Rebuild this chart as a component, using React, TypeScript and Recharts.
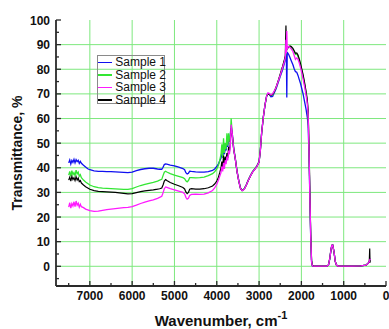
import React from 'react';
import { LineChart, Line, XAxis, YAxis, CartesianGrid, Legend } from 'recharts';

const wavenumbers = [
  7500, 7475, 7450, 7425, 7400, 7375, 7350, 7325, 7300, 7275,
  7250, 7225, 7200, 7150, 7100, 7050, 7000, 6900, 6800, 6700,
  6600, 6500, 6400, 6300, 6200, 6100, 6000, 5900, 5800, 5700,
  5600, 5500, 5400, 5350, 5300, 5270, 5240, 5210, 5180, 5100,
  5000, 4900, 4800, 4760, 4730, 4700, 4670, 4640, 4600, 4500,
  4400, 4300, 4200, 4100, 4050, 4000, 3960, 3930, 3900, 3880,
  3860, 3840, 3820, 3800, 3780, 3760, 3740, 3720, 3700, 3680,
  3660, 3640, 3620, 3600, 3560, 3520, 3480, 3440, 3400, 3350,
  3300, 3250, 3200, 3150, 3100, 3050, 3000, 2970, 2940, 2900,
  2860, 2820, 2790, 2760, 2720, 2680, 2640, 2600, 2550, 2500,
  2450, 2400, 2380, 2365, 2355, 2345, 2335, 2320, 2300, 2270,
  2240, 2200, 2170, 2140, 2110, 2080, 2050, 2020, 2000, 1960,
  1920, 1890, 1860, 1840, 1820, 1800, 1780, 1760, 1740, 1700,
  1600, 1500, 1400, 1360, 1330, 1300, 1280, 1260, 1230, 1200,
  1170, 1140, 1100, 1000, 800, 600, 470, 440, 410, 395,
  385, 378, 372,
];

const sample1 = [
  42.0, 43.2, 41.5, 43.0, 42.2, 43.4, 42.0, 43.3, 42.5, 43.0,
  41.8, 42.6, 41.8, 41.0, 40.3, 39.6, 39.2, 38.7, 38.5, 38.5,
  38.4, 38.4, 38.3, 38.2, 38.1, 38.0, 38.2, 38.8, 39.3, 39.6,
  39.8, 39.8, 39.5, 39.4, 39.4, 40.2, 41.3, 41.6, 41.5, 41.1,
  40.8, 40.3, 39.7, 39.2, 38.0, 37.5, 37.8, 38.6, 38.5, 38.3,
  38.2, 38.2, 38.4, 38.9, 39.5, 40.5, 41.6, 42.8, 44.0, 45.5,
  44.5, 47.0, 45.5, 48.0, 47.0, 50.0, 48.5, 52.0, 50.5, 53.5,
  57.0, 55.0, 51.5, 48.0, 43.5, 38.5, 34.8, 31.8, 30.9, 31.5,
  33.2, 35.2, 37.0, 38.5, 39.6, 40.8, 42.5, 47.0, 54.0, 60.5,
  65.5, 69.2, 70.0, 69.8, 68.8, 69.0, 70.5, 72.0, 74.5, 77.0,
  79.5, 82.5, 84.0, 85.5, 86.5, 68.5, 86.8, 86.5, 86.0, 84.8,
  83.5, 81.8, 80.2, 79.0, 78.8, 77.5, 75.8, 74.2, 72.8, 70.0,
  66.5, 63.8, 60.5, 57.0, 45.0, 28.0, 12.0, 2.0, 0.2, 0.1,
  0.1, 0.1, 0.1, 0.5, 3.0, 6.8, 8.5, 8.6, 6.0, 2.0,
  0.5, 0.1, 0.1, 0.1, 0.1, 0.2, 0.5, 0.9, 1.5, 2.0,
  2.5, 3.0, 2.5,
];

const sample2 = [
  37.0, 38.5, 36.5, 38.8, 37.2, 38.0, 36.8, 39.0, 37.5, 38.2,
  36.6, 37.2, 36.0, 35.0, 34.2, 33.6, 33.0, 32.3, 31.9, 31.7,
  31.6, 31.5, 31.4, 31.3, 31.2, 31.2, 31.5, 32.2, 32.8, 33.3,
  33.7, 34.1, 34.6, 35.0, 35.3, 36.8, 38.2, 38.6, 38.3, 37.6,
  37.0, 36.5, 36.0, 35.6, 34.7, 34.3, 34.8, 36.0, 36.0, 35.9,
  36.0, 36.2, 36.8, 37.6, 38.4, 39.5, 41.0, 43.0, 45.5, 49.5,
  44.0, 52.0, 46.0, 50.0, 47.5, 54.0, 49.0, 54.0, 50.5, 52.0,
  60.0, 55.0, 51.5, 48.0, 43.5, 38.5, 34.8, 31.8, 30.9, 31.5,
  33.2, 35.2, 37.0, 38.5, 39.6, 40.8, 42.5, 47.0, 54.0, 60.5,
  65.5, 69.2, 70.0, 69.8, 69.4, 69.6, 71.0, 72.5, 75.0, 77.8,
  80.5, 83.5, 85.0, 86.5, 87.5, 88.0, 88.3, 88.5, 89.0, 89.2,
  88.8, 88.0, 87.0, 86.0, 86.2, 85.2, 83.5, 81.5, 80.2, 77.2,
  73.5, 70.5, 67.0, 62.0, 48.0, 30.0, 13.0, 2.5, 0.3, 0.1,
  0.1, 0.1, 0.1, 0.5, 3.0, 6.8, 8.5, 8.6, 6.0, 2.0,
  0.5, 0.1, 0.1, 0.1, 0.1, 0.2, 0.5, 0.9, 1.5, 2.0,
  2.5, 3.0, 2.5,
];

const sample3 = [
  24.0, 25.8, 23.6, 25.5, 24.5, 26.2, 24.2, 26.5, 24.8, 25.6,
  24.0, 25.2, 24.2, 23.8, 23.2, 22.9, 22.6, 22.3, 22.4, 22.7,
  23.0, 23.2, 23.4, 23.6, 23.8, 23.9, 24.2, 24.8, 25.5, 26.1,
  26.6, 27.0, 27.6, 28.0, 28.4, 29.8, 31.5, 32.2, 32.0, 31.5,
  31.0, 30.5, 30.0, 29.4, 28.0, 27.3, 27.6, 28.8, 29.2, 29.3,
  29.2, 29.3, 29.8, 30.8, 31.8, 33.3, 35.0, 36.5, 38.0, 40.5,
  38.5, 42.0, 39.5, 43.0, 41.5, 44.5, 43.0, 47.0, 45.5, 49.0,
  57.5, 55.0, 51.0, 47.5, 43.3, 38.3, 34.6, 31.6, 30.7, 31.3,
  33.0, 35.0, 36.8, 38.3, 39.4, 40.6, 42.3, 47.0, 54.0, 60.5,
  65.5, 69.2, 70.4, 70.2, 69.6, 70.0, 71.2, 72.6, 75.0, 77.6,
  80.4, 83.2, 84.8, 92.0, 86.5, 95.5, 88.0, 89.0, 89.3, 88.8,
  88.3, 87.2, 85.6, 84.0, 84.6, 84.0, 82.5, 80.6, 79.2, 76.0,
  72.5, 69.5, 66.0, 61.5, 47.0, 29.0, 12.5, 2.0, 0.2, 0.1,
  0.1, 0.1, 0.1, 0.5, 3.0, 6.8, 8.5, 8.6, 6.0, 2.0,
  0.5, 0.1, 0.1, 0.1, 0.1, 0.2, 0.5, 0.9, 1.5, 2.0,
  2.5, 3.0, 2.5,
];

const sample4 = [
  35.0, 36.2, 34.6, 36.5, 35.2, 36.0, 34.8, 36.3, 35.0, 35.8,
  34.4, 34.8, 33.8, 33.0, 32.3, 31.8, 31.3, 30.7, 30.4, 30.3,
  30.2, 30.1, 30.0, 29.8, 29.6, 29.4, 29.5, 29.9, 30.3, 30.6,
  30.8, 31.0, 31.3, 31.5, 31.8, 33.0, 34.6, 35.2, 34.8, 34.0,
  33.3, 32.7, 32.0, 31.4, 30.2, 29.5, 30.0, 31.3, 31.5, 31.3,
  31.3, 31.5, 31.9, 32.6, 33.4, 34.6, 36.2, 38.0, 40.0, 42.5,
  40.0, 45.0, 41.5, 44.5, 43.0, 46.0, 44.0, 48.5, 46.5, 50.0,
  56.0, 54.5, 51.0, 47.5, 43.3, 38.3, 34.6, 31.6, 30.7, 31.3,
  33.0, 35.0, 36.8, 38.3, 39.4, 40.6, 42.3, 47.0, 54.0, 60.5,
  65.5, 69.2, 70.0, 69.8, 69.4, 69.8, 71.0, 72.6, 75.2, 78.0,
  80.8, 84.0, 85.5, 97.8, 87.5, 88.0, 88.5, 88.8, 89.2, 89.5,
  89.2, 88.5, 87.5, 86.5, 86.6, 85.8, 84.2, 82.3, 80.8, 77.8,
  74.2, 71.0, 67.5, 63.0, 49.0, 30.5, 13.0, 2.5, 0.3, 0.1,
  0.1, 0.1, 0.1, 0.5, 3.0, 6.8, 8.5, 8.6, 6.0, 2.0,
  0.5, 0.1, 0.1, 0.1, 0.1, 0.2, 0.5, 0.9, 1.5, 2.0,
  7.2, 1.5, 2.5,
];

const seriesNames = ['Sample 1', 'Sample 2', 'Sample 3', 'Sample 4'];
const seriesColors = ['#1010f0', '#33e633', '#ff1aff', '#000000'];

const xTicks = [7500, 7000, 6500, 6000, 5500, 5000, 4500, 4000, 3500, 3000, 2500, 2000, 1500, 1000, 500, 0];
const yTicks = [-5, 0, 5, 10, 15, 20, 25, 30, 35, 40, 45, 50, 55, 60, 65, 70, 75, 80, 85, 90, 95, 100];
const xGrid = [7000, 6000, 5000, 4000, 3000, 2000, 1000];
const yGrid = [0, 10, 20, 30, 40, 50, 60, 70, 80, 90];

const data = wavenumbers.map((w, i) => ({
  w,
  s1: sample1[i],
  s2: sample2[i],
  s3: sample3[i],
  s4: sample4[i],
}));

const FONT = '"Liberation Sans", Arial, sans-serif';
const AXIS = '#2a2a2a';

const XTick = (props: any) => {
  const { x, y, payload } = props;
  const v = payload.value;
  const major = v % 1000 === 0;
  return (
    <g>
      <line x1={x} x2={x} y1={y} y2={y - (major ? 5 : 3)} stroke={AXIS} strokeWidth={1.3} />
      {major && (
        <text x={x} y={y + 14} textAnchor="middle" fontFamily={FONT} fontWeight="bold" fontSize={12} fill="#111">
          {v}
        </text>
      )}
    </g>
  );
};

const YTick = (props: any) => {
  const { x, y, payload } = props;
  const v = payload.value;
  const major = v % 10 === 0;
  return (
    <g>
      <line x1={x} x2={x + (major ? 5 : 3)} y1={y} y2={y} stroke={AXIS} strokeWidth={1.3} />
      {major && (
        <text x={x - 6} y={y + 4.5} textAnchor="end" fontFamily={FONT} fontWeight="bold" fontSize={12} fill="#111">
          {v}
        </text>
      )}
    </g>
  );
};

const YTitle = (props: any) => {
  const vb = props.viewBox || { x: 0, y: 20, width: 56, height: 266 };
  const cx = 21.5;
  const cy = vb.y + vb.height / 2;
  return (
    <text x={cx} y={cy} transform={`rotate(-90 ${cx} ${cy})`} textAnchor="middle" fontFamily={FONT} fontWeight="bold" fontSize={14} fill="#111">
      Transmittance, %
    </text>
  );
};

const XTitle = (props: any) => {
  const vb = props.viewBox || { x: 56, y: 286, width: 330, height: 43 };
  const cx = vb.x + vb.width / 2;
  return (
    <text x={cx} y={326} textAnchor="middle" fontFamily={FONT} fontWeight="bold" fontSize={15} fill="#111">
      Wavenumber, cm
      <tspan fontSize={11} dy={-7}>-1</tspan>
    </text>
  );
};

const LegendBox = () => (
  <div
    style={{
      width: 68,
      height: 49,
      border: '1px solid #8a8a8a',
      position: 'relative',
      fontFamily: FONT,
      fontSize: 12,
      color: '#111',
      boxSizing: 'border-box',
    }}
  >
    {seriesNames.map((name, i) => (
      <div
        key={name}
        style={{ position: 'absolute', left: 0, top: i * 12.6, height: 12.6, width: 68, display: 'flex', alignItems: 'center' }}
      >
        <div style={{ width: 23, height: i === 1 ? 2.5 : 1.5, background: seriesColors[i], marginRight: 3 }} />
        <span style={{ lineHeight: '12px', whiteSpace: 'nowrap' }}>{name}</span>
      </div>
    ))}
  </div>
);

export default function App() {
  return (
    <div style={{ position: 'absolute', left: 0, top: 0, width: 389, height: 329, background: '#fff' }}>
      <LineChart width={389} height={329} data={data} margin={{ top: 20, right: 3, left: 0, bottom: 0 }}>
        <CartesianGrid
          stroke="#7ee87e"
          strokeWidth={1}
          verticalValues={xGrid}
          horizontalValues={yGrid}
        />
        <XAxis
          dataKey="w"
          type="number"
          domain={[0, 7800]}
          reversed
          ticks={xTicks}
          interval={0}
          tickSize={0}
          tickMargin={0}
          tick={<XTick />}
          tickLine={false}
          axisLine={{ stroke: AXIS, strokeWidth: 1.8 }}
          height={43}
          label={{ content: <XTitle /> } as any}
        />
        <XAxis
          xAxisId="top"
          orientation="top"
          type="number"
          domain={[0, 7800]}
          reversed
          height={0}
          tick={false}
          tickLine={false}
          axisLine={{ stroke: '#444', strokeWidth: 1.8 }}
        />
        <YAxis
          type="number"
          domain={[-8, 100]}
          ticks={yTicks}
          interval={0}
          tickSize={0}
          tickMargin={0}
          tick={<YTick />}
          tickLine={false}
          axisLine={{ stroke: AXIS, strokeWidth: 1.8 }}
          width={56}
          label={{ content: <YTitle /> } as any}
        />
        <YAxis
          yAxisId="right"
          orientation="right"
          type="number"
          domain={[-8, 100]}
          width={0}
          tick={false}
          tickLine={false}
          axisLine={{ stroke: '#444', strokeWidth: 1.8 }}
        />
        <Legend
          layout="horizontal"
          verticalAlign="middle"
          align="center"
          content={<LegendBox />}
          wrapperStyle={{ left: 97, top: 55, width: 68, height: 49 }}
        />
        <Line dataKey="s1" name={seriesNames[0]} stroke={seriesColors[0]} strokeWidth={1.3} dot={false} isAnimationActive={false} />
        <Line dataKey="s2" name={seriesNames[1]} stroke={seriesColors[1]} strokeWidth={1.3} dot={false} isAnimationActive={false} />
        <Line dataKey="s4" name={seriesNames[3]} stroke={seriesColors[3]} strokeWidth={1.2} dot={false} isAnimationActive={false} />
        <Line dataKey="s3" name={seriesNames[2]} stroke={seriesColors[2]} strokeWidth={1.3} dot={false} isAnimationActive={false} />
      </LineChart>
    </div>
  );
}
